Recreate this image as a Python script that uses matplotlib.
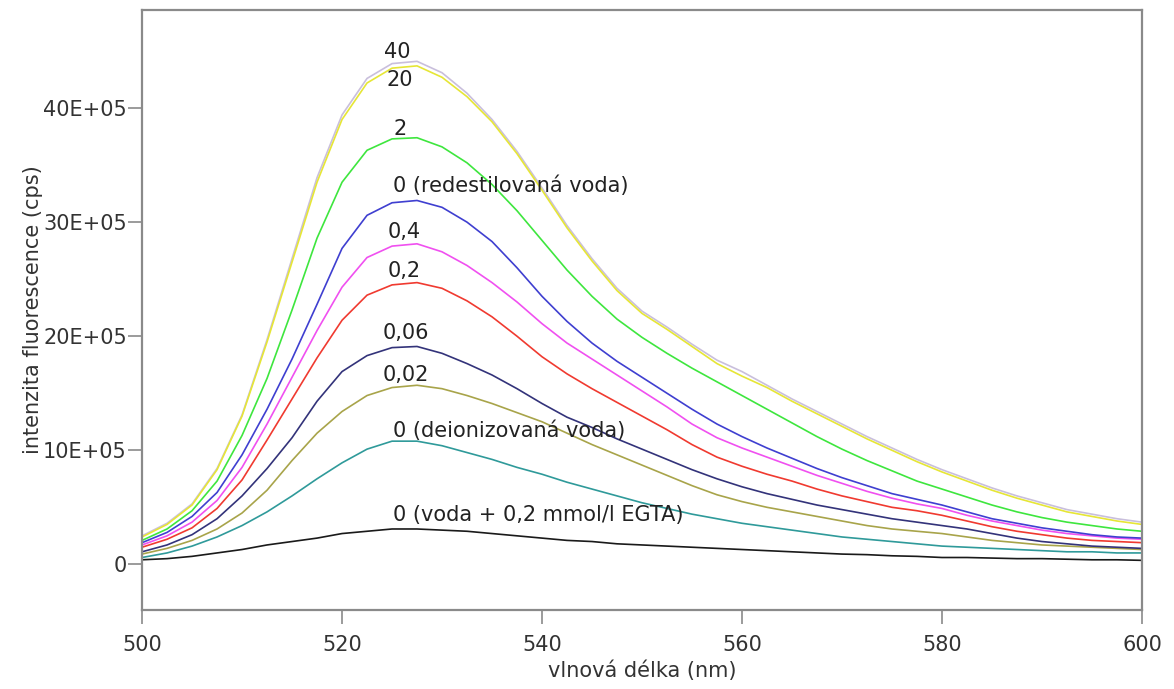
import matplotlib.pyplot as plt

plt.rcParams['font.family'] = ['DejaVu Sans']

# wavelength grid (nm), 2.5 nm steps
wl = [500 + 2.5 * i for i in range(41)]

# intensities in units of 1E+05 cps
i_40 = [2.5, 3.6, 5.3, 8.4, 13.1, 19.7, 26.8, 33.9, 39.4, 42.6, 43.9, 44.1, 43.1,
        41.3, 39.0, 36.2, 33.0, 29.7, 26.8, 24.2, 22.2, 20.8, 19.3, 17.9, 16.9,
        15.7, 14.5, 13.4, 12.3, 11.2, 10.2, 9.2, 8.3, 7.5, 6.7, 6.0, 5.4, 4.8,
        4.4, 4.0, 3.7]
i_20 = [2.4, 3.5, 5.2, 8.3, 13.0, 19.5, 26.5, 33.5, 39.0, 42.2, 43.5, 43.7, 42.7,
        41.0, 38.8, 36.0, 32.8, 29.5, 26.6, 24.0, 22.0, 20.6, 19.1, 17.6, 16.5,
        15.5, 14.3, 13.2, 12.1, 11.0, 10.0, 9.0, 8.1, 7.3, 6.5, 5.8, 5.2, 4.6,
        4.2, 3.8, 3.5]
i_2 = [2.1, 3.1, 4.7, 7.3, 11.3, 16.3, 22.3, 28.6, 33.5, 36.3, 37.3, 37.4, 36.6,
       35.2, 33.3, 31.0, 28.4, 25.8, 23.5, 21.5, 19.9, 18.5, 17.2, 16.0, 14.8,
       13.6, 12.4, 11.2, 10.1, 9.1, 8.2, 7.3, 6.6, 5.9, 5.2, 4.6, 4.1, 3.7, 3.4,
       3.1, 2.9]
i_redest = [1.9, 2.8, 4.2, 6.3, 9.6, 13.6, 18.0, 22.8, 27.7, 30.6, 31.7, 31.9, 31.3,
            30.0, 28.3, 26.0, 23.5, 21.3, 19.4, 17.8, 16.4, 15.0, 13.6, 12.3, 11.2,
            10.2, 9.3, 8.4, 7.6, 6.9, 6.2, 5.7, 5.2, 4.6, 4.0, 3.6, 3.2, 2.9, 2.6,
            2.4, 2.3]
i_04 = [1.7, 2.5, 3.7, 5.6, 8.5, 12.3, 16.4, 20.5, 24.3, 26.9, 27.9, 28.1, 27.4,
        26.2, 24.7, 23.0, 21.1, 19.4, 18.0, 16.6, 15.2, 13.8, 12.3, 11.1, 10.2,
        9.4, 8.6, 7.8, 7.1, 6.4, 5.8, 5.3, 4.9, 4.3, 3.8, 3.4, 3.0, 2.7, 2.5, 2.3,
        2.2]
i_02 = [1.5, 2.2, 3.2, 4.9, 7.4, 10.9, 14.5, 18.1, 21.4, 23.6, 24.5, 24.7, 24.2,
        23.1, 21.7, 20.0, 18.2, 16.7, 15.4, 14.2, 13.0, 11.8, 10.5, 9.4, 8.6, 7.9,
        7.3, 6.6, 6.0, 5.5, 5.0, 4.7, 4.3, 3.8, 3.3, 2.9, 2.6, 2.3, 2.1, 2.0, 1.9]
i_006 = [1.1, 1.7, 2.6, 4.0, 6.0, 8.4, 11.1, 14.3, 16.9, 18.3, 19.0, 19.1, 18.5,
         17.6, 16.6, 15.4, 14.1, 12.9, 12.0, 11.0, 10.1, 9.2, 8.3, 7.5, 6.8, 6.2,
         5.7, 5.2, 4.8, 4.4, 4.0, 3.7, 3.4, 3.1, 2.7, 2.3, 2.0, 1.8, 1.6, 1.5, 1.4]
i_002 = [0.9, 1.4, 2.1, 3.1, 4.5, 6.5, 9.1, 11.5, 13.4, 14.8, 15.5, 15.7, 15.4,
         14.8, 14.1, 13.3, 12.5, 11.5, 10.5, 9.6, 8.7, 7.8, 6.9, 6.1, 5.5, 5.0,
         4.6, 4.2, 3.8, 3.4, 3.1, 2.9, 2.7, 2.4, 2.1, 1.9, 1.7, 1.6, 1.5, 1.4, 1.3]
i_deion = [0.6, 1.0, 1.6, 2.4, 3.4, 4.6, 6.0, 7.5, 8.9, 10.1, 10.8, 10.8, 10.4,
           9.8, 9.2, 8.5, 7.9, 7.2, 6.6, 6.0, 5.4, 4.9, 4.4, 4.0, 3.6, 3.3, 3.0,
           2.7, 2.4, 2.2, 2.0, 1.8, 1.6, 1.5, 1.4, 1.3, 1.2, 1.1, 1.1, 1.0, 1.0]
i_egta = [0.4, 0.5, 0.7, 1.0, 1.3, 1.7, 2.0, 2.3, 2.7, 2.9, 3.1, 3.1, 3.0, 2.9,
          2.7, 2.5, 2.3, 2.1, 2.0, 1.8, 1.7, 1.6, 1.5, 1.4, 1.3, 1.2, 1.1, 1.0,
          0.9, 0.85, 0.75, 0.7, 0.6, 0.6, 0.55, 0.5, 0.5, 0.45, 0.4, 0.4, 0.35]

series = [i_egta, i_deion, i_002, i_006, i_02, i_04, i_redest, i_2, i_40, i_20]
colors = ['#1a1a1a', '#2f9a9a', '#a8a44a', '#33337a', '#f03a30', '#f050f0',
          '#3f3fd0', '#3ee63e', '#c9bfdc', '#e6e636']

labels = ['40', '20', '2', '0 (redestilovaná voda)', '0,4', '0,2', '0,06', '0,02',
          '0 (deionizovaná voda)', '0 (voda + 0,2 mmol/l EGTA)']
label_x = [525.5, 525.8, 525.8, 525.1, 524.6, 524.6, 524.1, 524.1, 525.1, 525.1]
label_y = [44.9, 42.5, 38.2, 33.2, 29.1, 25.7, 20.3, 16.6, 11.75, 4.3]
label_ha = ['center', 'center', 'center', 'left', 'left', 'left', 'left', 'left',
            'left', 'left']

fig = plt.figure(figsize=(11.74, 6.89), dpi=100)
ax = fig.add_axes([0.121, 0.1147, 0.8517, 0.8708])

for vals, c in zip(series, colors):
    ax.plot(wl, vals, color=c, lw=1.2)

for txt, x, y, ha in zip(labels, label_x, label_y, label_ha):
    ax.text(x, y, txt, ha=ha, va='center', fontsize=15, color='#222222')

ax.set_xlim(500, 600)
ax.set_ylim(-4.0, 48.6)
ax.set_xticks([500, 520, 540, 560, 580, 600])
ax.set_yticks([0, 10, 20, 30, 40])
ax.set_yticklabels(['0', '10E+05', '20E+05', '30E+05', '40E+05'])

for s in ax.spines.values():
    s.set_color('#8a8a8a')
    s.set_linewidth(1.6)
ax.tick_params(direction='out', length=10, width=1.2, color='#8a8a8a',
               labelsize=15, labelcolor='#333333')
ax.tick_params(axis='x', pad=8)
ax.tick_params(axis='y', pad=1)

ax.set_xlabel('vlnová délka (nm)', fontsize=15, color='#333333', labelpad=4)
ax.set_ylabel('intenzita fluorescence (cps)', fontsize=15, color='#333333',
              labelpad=0)

fig.savefig('out.png', dpi=100)
